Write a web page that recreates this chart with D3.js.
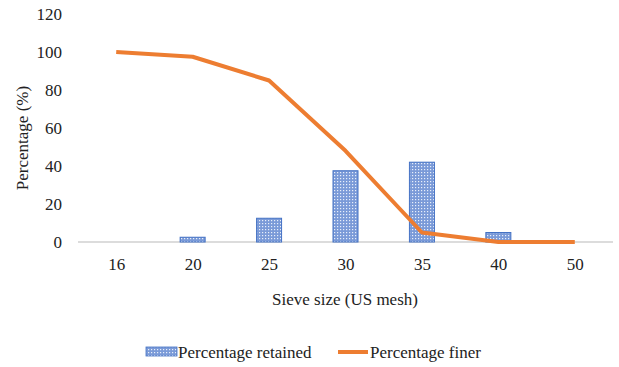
<!DOCTYPE html>
<html><head><meta charset="utf-8">
<script src="https://cdn.jsdelivr.net/npm/d3@7"></script>
<style>body{margin:0;background:#fff}svg{display:block}</style>
</head><body>
<svg id="c" width="619" height="367"></svg>
<script>
const categories = ["16","20","25","30","35","40","50"];
const retained = [0, 2.5, 12.5, 37.5, 42, 5, 0];
const finer = [100, 97.5, 85, 48, 5, 0, 0];
const yTicks = [0,20,40,60,80,100,120];

(function(){
const FONT = "'Liberation Serif', 'DejaVu Serif', serif";
const svg = d3.select("#c");
const mLeft = 78, mRight = 613, mTop = 14, mBottom = 242;
const xc = d3.scalePoint().domain(categories).range([mLeft, mRight]).padding(0.5);
const y = d3.scaleLinear().domain([0,120]).range([mBottom, mTop]);

const defs = svg.append("defs");
const pat = defs.append("pattern").attr("id","dots").attr("width",3).attr("height",3).attr("patternUnits","userSpaceOnUse");
pat.append("rect").attr("width",3).attr("height",3).attr("fill","#7a9ad8");
pat.append("rect").attr("x",1).attr("y",1).attr("width",1.2).attr("height",1.2).attr("fill","#e8eefa");

svg.append("line").attr("x1",mLeft).attr("x2",mRight).attr("y1",y(0)).attr("y2",y(0)).attr("stroke","#d0d0d0").attr("stroke-width",1.5);

const ya = svg.append("g").attr("transform",`translate(${mLeft},0)`).call(d3.axisLeft(y).tickValues(yTicks).tickSize(0).tickPadding(16));
ya.attr("font-family",FONT).attr("font-size",17);
ya.select(".domain").remove();
ya.selectAll("text").attr("fill","#222");

const xa = svg.append("g").attr("transform",`translate(0,${mBottom})`).call(d3.axisBottom(xc).tickSize(0).tickPadding(16));
xa.attr("font-family",FONT).attr("font-size",17);
xa.select(".domain").remove();
xa.selectAll("text").attr("fill","#222");

const bw = 25;
svg.append("g").selectAll("rect").data(categories.map((c,i)=>({c,v:retained[i]})).filter(d=>d.v>0)).join("rect")
  .attr("x",d=>xc(d.c)-bw/2).attr("width",bw)
  .attr("y",d=>y(d.v)).attr("height",d=>y(0)-y(d.v))
  .attr("fill","url(#dots)").attr("stroke","#4472c4").attr("stroke-width",1);

const line = d3.line().x((d,i)=>xc(categories[i])).y(d=>y(d));
svg.append("path").datum(finer).attr("d",line).attr("fill","none").attr("stroke","#ed7d31").attr("stroke-width",4).attr("stroke-linejoin","round");

const T = svg.append("g").attr("font-family",FONT).attr("font-size",17).attr("fill","#222");
T.append("text").attr("transform",`translate(28,${(mTop+mBottom)/2+10}) rotate(-90)`).attr("text-anchor","middle").text("Percentage (%)");
T.append("text").attr("x",345).attr("y",305).attr("text-anchor","middle").text("Sieve size (US mesh)");

T.append("rect").attr("x",146).attr("y",347).attr("width",31).attr("height",9).attr("fill","url(#dots)").attr("stroke","#4472c4").attr("stroke-width",0.8);
T.append("text").attr("x",178).attr("y",358).text("Percentage retained");
T.append("line").attr("x1",338).attr("x2",368).attr("y1",352).attr("y2",352).attr("stroke","#ed7d31").attr("stroke-width",4);
T.append("text").attr("x",370).attr("y",358).text("Percentage finer");
})();
</script>
</body></html>
